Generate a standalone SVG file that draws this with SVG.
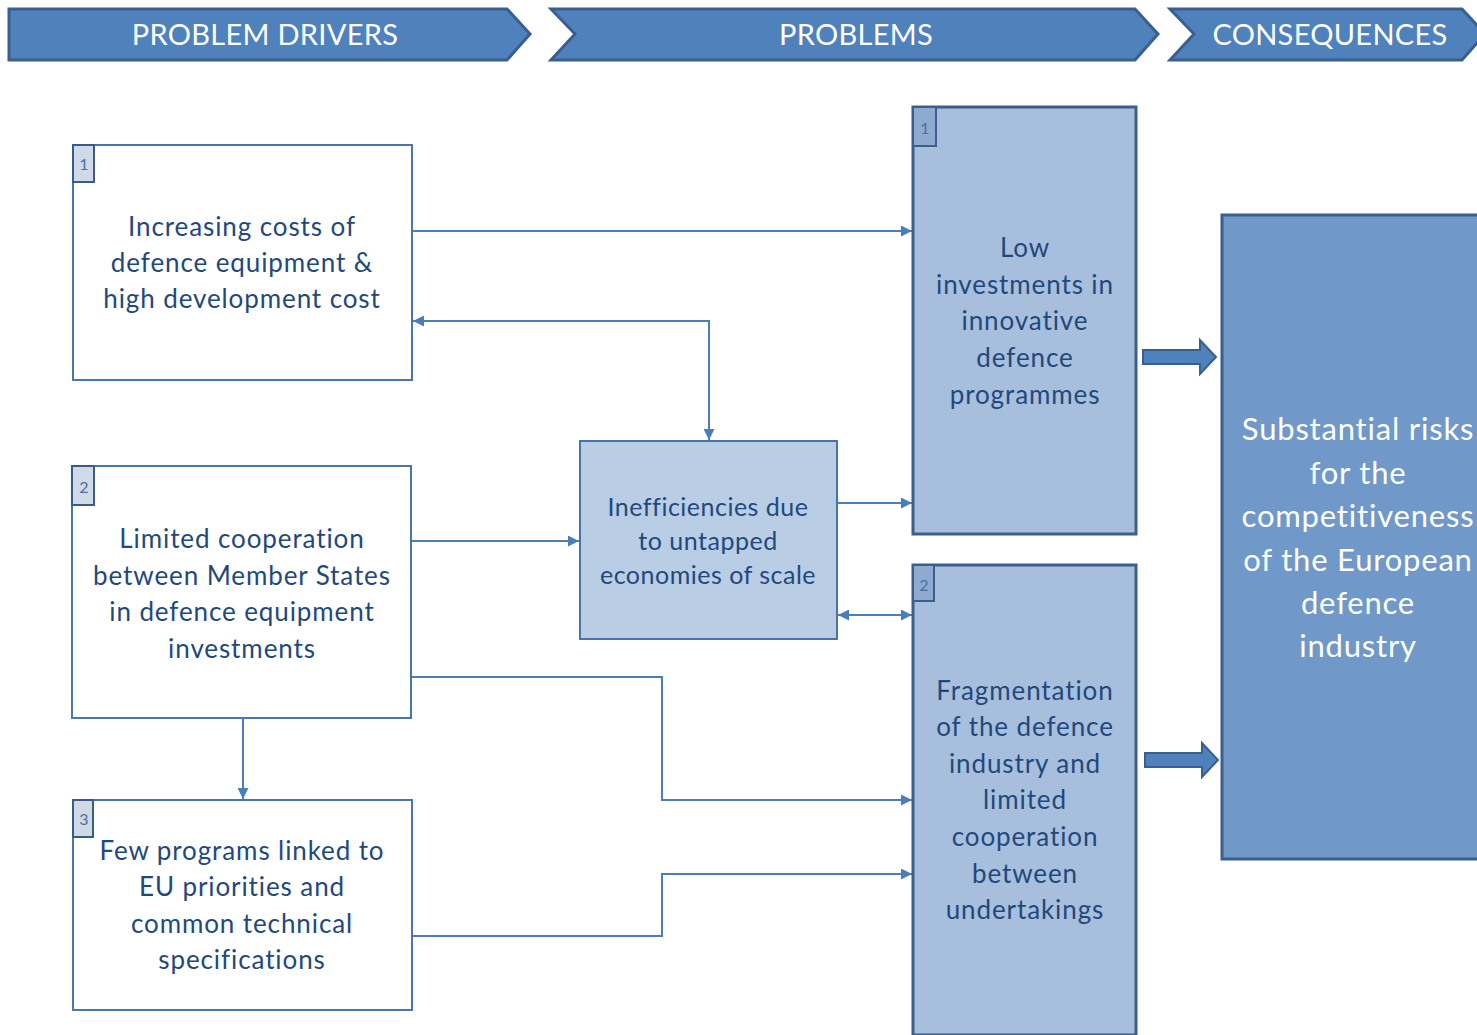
<svg xmlns="http://www.w3.org/2000/svg" width="1477" height="1035" viewBox="0 0 1477 1035">
<defs>
<style>
text{font-variant-ligatures:none;font-feature-settings:"liga" 0}
.hdr{fill:#4f81bd;stroke:#3a5f8f;stroke-width:3}
.htxt{font-family:Lato,"Open Sans",sans-serif;font-size:29px;fill:#ffffff;text-anchor:middle;letter-spacing:0.3px}
.drv{fill:#ffffff;stroke:#4a76b0;stroke-width:2}
.bdg1{fill:#d0d9e6;stroke:#3a5a87;stroke-width:2}
.bdg2{fill:#8eaad0;stroke:#3b5e8c;stroke-width:2}
.num{font-family:Lato,"Open Sans",sans-serif;font-size:16px;fill:#4a6fa5;text-anchor:middle}
.txt{font-family:Lato,"Open Sans",sans-serif;font-size:26px;fill:#1f497d;text-anchor:middle;letter-spacing:0.9px}
.itxt{font-family:Lato,"Open Sans",sans-serif;font-size:25px;fill:#1f497d;text-anchor:middle;letter-spacing:0.5px}
.ineff{fill:#b9cde5;stroke:#4a72a8;stroke-width:2}
.prob{fill:#a7bedc;stroke:#3b5e8c;stroke-width:3}
.cons{fill:#7099c9;stroke:#3b5e8c;stroke-width:3}
.ctxt{font-family:Lato,"Open Sans",sans-serif;font-size:31px;fill:#ffffff;text-anchor:middle;letter-spacing:0.8px}
.con{fill:none;stroke:#4a7ebb;stroke-width:2}
.blk{fill:#4f81bd;stroke:#3a5f8f;stroke-width:2}
</style>
<marker id="ah" markerUnits="userSpaceOnUse" markerWidth="11" markerHeight="11" refX="10" refY="5" orient="auto-start-reverse" viewBox="0 0 10 10">
<path d="M0,0 L10,5 L0,10 z" fill="#4a7ebb"/>
</marker>
</defs>

<g id="headers">
<g id="hdr-drivers">
<polygon class="hdr" points="9,9 507,9 530,34 507,60 9,60"/>
<text class="htxt" x="265" y="45">PROBLEM DRIVERS</text>
</g>
<g id="hdr-problems">
<polygon class="hdr" points="551,9 1135,9 1158,34 1135,60 551,60 575,34"/>
<text class="htxt" x="856" y="45">PROBLEMS</text>
</g>
<g id="hdr-consequences">
<polygon class="hdr" points="1170,9 1462,9 1485,34 1462,60 1170,60 1194,34"/>
<text class="htxt" x="1330" y="45">CONSEQUENCES</text>
</g>
</g>

<g id="connectors">
<path class="con" d="M412,231 L912,231" marker-end="url(#ah)"/>
<path class="con" d="M413,321 L709,321 L709,440" marker-start="url(#ah)" marker-end="url(#ah)"/>
<path class="con" d="M411,541 L579,541" marker-end="url(#ah)"/>
<path class="con" d="M837,503 L912,503" marker-end="url(#ah)"/>
<path class="con" d="M838,615 L912,615" marker-start="url(#ah)" marker-end="url(#ah)"/>
<path class="con" d="M411,677 L662,677 L662,800 L912,800" marker-end="url(#ah)"/>
<path class="con" d="M412,936 L662,936 L662,874 L912,874" marker-end="url(#ah)"/>
<path class="con" d="M243,718 L243,799" marker-end="url(#ah)"/>
<polygon class="blk" points="1143,350 1200,350 1200,340 1216,357 1200,374 1200,364 1143,364"/>
<polygon class="blk" points="1145,753 1202,753 1202,743 1218,760 1202,777 1202,767 1145,767"/>
</g>

<g id="driver1">
<rect class="drv" x="73" y="145" width="339" height="235"/>
<rect class="bdg1" x="73" y="145" width="21" height="37"/>
<text class="num" x="84" y="170">1</text>
<text class="txt" x="242" y="236">Increasing costs of</text>
<text class="txt" x="242" y="272">defence equipment &amp;</text>
<text class="txt" x="242" y="308">high development cost</text>
</g>

<g id="driver2">
<rect class="drv" x="72" y="466" width="339" height="252"/>
<rect class="bdg1" x="72" y="466" width="22" height="39"/>
<text class="num" x="84" y="493">2</text>
<text class="txt" x="242" y="548">Limited cooperation</text>
<text class="txt" x="242" y="585">between Member States</text>
<text class="txt" x="242" y="621">in defence equipment</text>
<text class="txt" x="242" y="658">investments</text>
</g>

<g id="driver3">
<rect class="drv" x="73" y="800" width="339" height="210"/>
<rect class="bdg1" x="73" y="800" width="20" height="37"/>
<text class="num" x="84" y="825">3</text>
<text class="txt" x="242" y="860">Few programs linked to</text>
<text class="txt" x="242" y="896">EU priorities and</text>
<text class="txt" x="242" y="933">common technical</text>
<text class="txt" x="242" y="969">specifications</text>
</g>

<g id="inefficiencies">
<rect class="ineff" x="580" y="441" width="257" height="198"/>
<text class="itxt" x="708" y="516">Inefficiencies due</text>
<text class="itxt" x="708" y="550">to untapped</text>
<text class="itxt" x="708" y="584">economies of scale</text>
</g>

<g id="problem1">
<rect class="prob" x="913" y="107" width="223" height="427"/>
<rect class="bdg2" x="913" y="107" width="23" height="39"/>
<text class="num" x="925" y="134">1</text>
<text class="txt" x="1025" y="257">Low</text>
<text class="txt" x="1025" y="294">investments in</text>
<text class="txt" x="1025" y="330">innovative</text>
<text class="txt" x="1025" y="367">defence</text>
<text class="txt" x="1025" y="404">programmes</text>
</g>

<g id="problem2">
<rect class="prob" x="913" y="565" width="223" height="470"/>
<rect class="bdg2" x="913" y="565" width="21" height="36"/>
<text class="num" x="924" y="591">2</text>
<text class="txt" x="1025" y="700">Fragmentation</text>
<text class="txt" x="1025" y="736">of the defence</text>
<text class="txt" x="1025" y="773">industry and</text>
<text class="txt" x="1025" y="809">limited</text>
<text class="txt" x="1025" y="846">cooperation</text>
<text class="txt" x="1025" y="883">between</text>
<text class="txt" x="1025" y="919">undertakings</text>
</g>

<g id="consequence">
<rect class="cons" x="1222" y="215" width="270" height="644"/>
<text class="ctxt" x="1358" y="440">Substantial risks</text>
<text class="ctxt" x="1358" y="484">for the</text>
<text class="ctxt" x="1358" y="527">competitiveness</text>
<text class="ctxt" x="1358" y="571">of the European</text>
<text class="ctxt" x="1358" y="614">defence</text>
<text class="ctxt" x="1358" y="657">industry</text>
</g>
</svg>
